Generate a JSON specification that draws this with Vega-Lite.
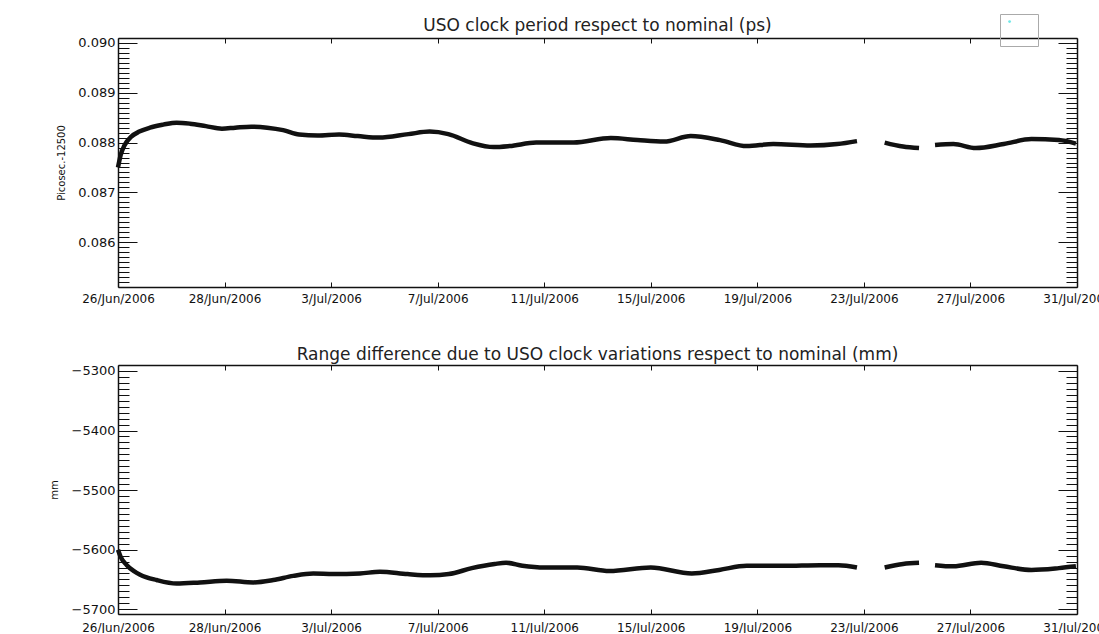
{
  "$schema": "https://vega.github.io/schema/vega-lite/v6.json",
  "background": "white",
  "padding": {"left": 49, "top": 13, "right": 0, "bottom": 0},
  "spacing": 41,
  "datasets": {
    "clock": [
      {"seg": 1, "d": 0.0, "v": 0.08750},
      {"seg": 1, "d": 0.1, "v": 0.08775},
      {"seg": 1, "d": 0.25, "v": 0.08795},
      {"seg": 1, "d": 0.5, "v": 0.08812},
      {"seg": 1, "d": 0.8, "v": 0.08822},
      {"seg": 1, "d": 1.2, "v": 0.08830},
      {"seg": 1, "d": 1.7, "v": 0.08836},
      {"seg": 1, "d": 2.2, "v": 0.08840},
      {"seg": 1, "d": 2.7, "v": 0.08838},
      {"seg": 1, "d": 3.3, "v": 0.08833},
      {"seg": 1, "d": 3.9, "v": 0.08828},
      {"seg": 1, "d": 4.4, "v": 0.08830},
      {"seg": 1, "d": 5.0, "v": 0.08832},
      {"seg": 1, "d": 5.6, "v": 0.08830},
      {"seg": 1, "d": 6.2, "v": 0.08825},
      {"seg": 1, "d": 6.8, "v": 0.08816},
      {"seg": 1, "d": 7.5, "v": 0.08814},
      {"seg": 1, "d": 8.3, "v": 0.08816},
      {"seg": 1, "d": 9.0, "v": 0.08813},
      {"seg": 1, "d": 9.8, "v": 0.08810},
      {"seg": 1, "d": 10.9, "v": 0.08817},
      {"seg": 1, "d": 11.7, "v": 0.08822},
      {"seg": 1, "d": 12.4, "v": 0.08817},
      {"seg": 1, "d": 13.3, "v": 0.08799},
      {"seg": 1, "d": 14.1, "v": 0.08791},
      {"seg": 1, "d": 14.7, "v": 0.08793},
      {"seg": 1, "d": 15.7, "v": 0.08800},
      {"seg": 1, "d": 17.1, "v": 0.08800},
      {"seg": 1, "d": 18.5, "v": 0.08809},
      {"seg": 1, "d": 19.5, "v": 0.08805},
      {"seg": 1, "d": 20.5, "v": 0.08802},
      {"seg": 1, "d": 21.5, "v": 0.08813},
      {"seg": 1, "d": 22.6, "v": 0.08805},
      {"seg": 1, "d": 23.6, "v": 0.08793},
      {"seg": 1, "d": 24.6, "v": 0.08797},
      {"seg": 1, "d": 26.0, "v": 0.08794},
      {"seg": 1, "d": 27.0, "v": 0.08797},
      {"seg": 1, "d": 27.74, "v": 0.08803},
      {"seg": 2, "d": 28.78, "v": 0.08800},
      {"seg": 2, "d": 29.47, "v": 0.08792},
      {"seg": 2, "d": 30.07, "v": 0.08789},
      {"seg": 3, "d": 30.67, "v": 0.08795},
      {"seg": 3, "d": 31.36, "v": 0.08797},
      {"seg": 3, "d": 32.2, "v": 0.08789},
      {"seg": 3, "d": 33.25, "v": 0.08797},
      {"seg": 3, "d": 34.29, "v": 0.08807},
      {"seg": 3, "d": 35.32, "v": 0.08805},
      {"seg": 3, "d": 35.96, "v": 0.08798}
    ],
    "range": [
      {"seg": 1, "d": 0.0, "v": -5600},
      {"seg": 1, "d": 0.1, "v": -5612},
      {"seg": 1, "d": 0.33, "v": -5626},
      {"seg": 1, "d": 0.6, "v": -5636},
      {"seg": 1, "d": 0.83, "v": -5642},
      {"seg": 1, "d": 1.45, "v": -5651},
      {"seg": 1, "d": 2.2, "v": -5657},
      {"seg": 1, "d": 3.08, "v": -5655},
      {"seg": 1, "d": 4.08, "v": -5652},
      {"seg": 1, "d": 5.08, "v": -5655},
      {"seg": 1, "d": 5.83, "v": -5651},
      {"seg": 1, "d": 6.58, "v": -5644},
      {"seg": 1, "d": 7.33, "v": -5640},
      {"seg": 1, "d": 8.08, "v": -5641},
      {"seg": 1, "d": 9.08, "v": -5640},
      {"seg": 1, "d": 9.83, "v": -5637},
      {"seg": 1, "d": 10.87, "v": -5641},
      {"seg": 1, "d": 11.73, "v": -5643},
      {"seg": 1, "d": 12.42, "v": -5641},
      {"seg": 1, "d": 13.28, "v": -5631},
      {"seg": 1, "d": 14.14, "v": -5624},
      {"seg": 1, "d": 14.57, "v": -5622},
      {"seg": 1, "d": 15.18, "v": -5627},
      {"seg": 1, "d": 16.03, "v": -5630},
      {"seg": 1, "d": 17.24, "v": -5630},
      {"seg": 1, "d": 18.45, "v": -5636},
      {"seg": 1, "d": 20.0, "v": -5630},
      {"seg": 1, "d": 21.54, "v": -5640},
      {"seg": 1, "d": 22.57, "v": -5634},
      {"seg": 1, "d": 23.6, "v": -5627},
      {"seg": 1, "d": 24.98, "v": -5627},
      {"seg": 1, "d": 26.36, "v": -5626},
      {"seg": 1, "d": 27.05, "v": -5626},
      {"seg": 1, "d": 27.74, "v": -5630},
      {"seg": 2, "d": 28.78, "v": -5630},
      {"seg": 2, "d": 29.47, "v": -5624},
      {"seg": 2, "d": 30.07, "v": -5622},
      {"seg": 3, "d": 30.67, "v": -5626},
      {"seg": 3, "d": 31.36, "v": -5628},
      {"seg": 3, "d": 32.4, "v": -5622},
      {"seg": 3, "d": 33.25, "v": -5628},
      {"seg": 3, "d": 34.29, "v": -5634},
      {"seg": 3, "d": 35.32, "v": -5631},
      {"seg": 3, "d": 35.96, "v": -5628}
    ]
  },
  "vconcat": [
    {
      "width": 959,
      "height": 249,
      "title": {"text": "USO clock period respect to nominal (ps)", "fontSize": 17, "fontWeight": "normal", "font": "DejaVu Sans", "color": "#222", "offset": 2},
      "data": {"name": "clock"},
      "layer": [
        {
          "mark": {"type": "line", "color": "#111", "strokeWidth": 4.5, "interpolate": "monotone"},
          "encoding": {
            "x": {"field": "d", "type": "quantitative", "scale": {"domain": [0, 36], "nice": false, "zero": false},
              "axis": {"title": null, "values": [0, 4, 8, 12, 16, 20, 24, 28, 32, 36], "tickSize": -5, "labelPadding": 11, "labelOverlap": false, "labelFlush": false,
                "labelExpr": "['26/Jun/2006','28/Jun/2006','3/Jul/2006','7/Jul/2006','11/Jul/2006','15/Jul/2006','19/Jul/2006','23/Jul/2006','27/Jul/2006','31/Jul/2006'][round(datum.value/4)]"}},
            "y": {"field": "v", "type": "quantitative", "scale": {"domain": [0.0851, 0.0901], "nice": false, "zero": false},
              "axis": {"title": "Picosec.-12500", "titlePadding": 11,
                "values": [0.0852,0.0853,0.0854,0.0855,0.0856,0.0857,0.0858,0.0859,0.086,0.0861,0.0862,0.0863,0.0864,0.0865,0.0866,0.0867,0.0868,0.0869,0.087,0.0871,0.0872,0.0873,0.0874,0.0875,0.0876,0.0877,0.0878,0.0879,0.088,0.0881,0.0882,0.0883,0.0884,0.0885,0.0886,0.0887,0.0888,0.0889,0.089,0.0891,0.0892,0.0893,0.0894,0.0895,0.0896,0.0897,0.0898,0.0899,0.09],
                "tickSize": {"condition": {"test": "abs(datum.value*1000 - round(datum.value*1000)) < 0.01", "value": -19}, "value": -11},
                "labelPadding": 22, "labelOverlap": false,
                "labelExpr": "abs(datum.value*1000 - round(datum.value*1000)) < 0.01 ? format(datum.value, '.3f') : ''"}},
            "detail": {"field": "seg"}
          }
        },
        {
          "mark": {"type": "line", "opacity": 0},
          "encoding": {
            "x": {"field": "d", "type": "quantitative",
              "axis": {"orient": "top", "title": null, "labels": false, "values": [0, 4, 8, 12, 16, 20, 24, 28, 32, 36], "tickSize": -5}},
            "y": {"field": "v", "type": "quantitative",
              "axis": {"orient": "right", "title": null, "labels": false,
                "values": [0.0852,0.0853,0.0854,0.0855,0.0856,0.0857,0.0858,0.0859,0.086,0.0861,0.0862,0.0863,0.0864,0.0865,0.0866,0.0867,0.0868,0.0869,0.087,0.0871,0.0872,0.0873,0.0874,0.0875,0.0876,0.0877,0.0878,0.0879,0.088,0.0881,0.0882,0.0883,0.0884,0.0885,0.0886,0.0887,0.0888,0.0889,0.089,0.0891,0.0892,0.0893,0.0894,0.0895,0.0896,0.0897,0.0898,0.0899,0.09],
                "tickSize": {"condition": {"test": "abs(datum.value*1000 - round(datum.value*1000)) < 0.01", "value": -19}, "value": -11}}},
            "detail": {"field": "seg"}
          }
        },
        {
          "transform": [{"filter": "false"}],
          "mark": {"type": "point", "filled": true},
          "encoding": {
            "color": {"datum": "a", "scale": {"domain": ["a"], "range": ["#33dddd"]},
              "legend": {"orient": "none", "legendX": 882, "legendY": -24, "title": "M", "titleOrient": "bottom", "titleFontSize": 13, "titleColor": "transparent", "titlePadding": 4,
                "labelExpr": "'MMM'", "labelFontSize": 7.2, "labelColor": "transparent", "labelOffset": 2,
                "symbolSize": 8, "symbolOffset": 2, "symbolType": "circle", "padding": 4, "strokeColor": "#aaaaaa", "fillColor": "transparent"}}
          }
        }
      ],
      "resolve": {"axis": {"x": "independent", "y": "independent"}}
    },
    {
      "width": 959,
      "height": 249,
      "title": {"text": "Range difference due to USO clock variations respect to nominal (mm)", "fontSize": 17, "fontWeight": "normal", "font": "DejaVu Sans", "color": "#222", "offset": 1},
      "data": {"name": "range"},
      "layer": [
        {
          "mark": {"type": "line", "color": "#111", "strokeWidth": 4.5, "interpolate": "monotone"},
          "encoding": {
            "x": {"field": "d", "type": "quantitative", "scale": {"domain": [0, 36], "nice": false, "zero": false},
              "axis": {"title": null, "values": [0, 4, 8, 12, 16, 20, 24, 28, 32, 36], "tickSize": -5, "labelPadding": 13, "labelOverlap": false, "labelFlush": false,
                "labelExpr": "['26/Jun/2006','28/Jun/2006','3/Jul/2006','7/Jul/2006','11/Jul/2006','15/Jul/2006','19/Jul/2006','23/Jul/2006','27/Jul/2006','31/Jul/2006'][round(datum.value/4)]"}},
            "y": {"field": "v", "type": "quantitative", "scale": {"domain": [-5708, -5290], "nice": false, "zero": false},
              "axis": {"title": "mm", "titlePadding": 12,
                "values": [-5700,-5690,-5680,-5670,-5660,-5650,-5640,-5630,-5620,-5610,-5600,-5590,-5580,-5570,-5560,-5550,-5540,-5530,-5520,-5510,-5500,-5490,-5480,-5470,-5460,-5450,-5440,-5430,-5420,-5410,-5400,-5390,-5380,-5370,-5360,-5350,-5340,-5330,-5320,-5310,-5300],
                "tickSize": {"condition": {"test": "datum.value % 100 == 0", "value": -19}, "value": -11},
                "labelPadding": 22, "labelOverlap": false,
                "labelExpr": "datum.value % 100 == 0 ? format(datum.value, 'd') : ''"}},
            "detail": {"field": "seg"}
          }
        },
        {
          "mark": {"type": "line", "opacity": 0},
          "encoding": {
            "x": {"field": "d", "type": "quantitative",
              "axis": {"orient": "top", "title": null, "labels": false, "values": [0, 4, 8, 12, 16, 20, 24, 28, 32, 36], "tickSize": -5}},
            "y": {"field": "v", "type": "quantitative",
              "axis": {"orient": "right", "title": null, "labels": false,
                "values": [-5700,-5690,-5680,-5670,-5660,-5650,-5640,-5630,-5620,-5610,-5600,-5590,-5580,-5570,-5560,-5550,-5540,-5530,-5520,-5510,-5500,-5490,-5480,-5470,-5460,-5450,-5440,-5430,-5420,-5410,-5400,-5390,-5380,-5370,-5360,-5350,-5340,-5330,-5320,-5310,-5300],
                "tickSize": {"condition": {"test": "datum.value % 100 == 0", "value": -19}, "value": -11}}},
            "detail": {"field": "seg"}
          }
        }
      ],
      "resolve": {"axis": {"x": "independent", "y": "independent"}}
    }
  ],
  "config": {
    "view": {"stroke": null},
    "axis": {"grid": false, "domainColor": "#111", "domainWidth": 1.5, "tickColor": "#111", "tickWidth": 1, "labelColor": "#111", "labelFont": "DejaVu Sans", "labelFontSize": 12, "titleFont": "DejaVu Sans", "titleFontSize": 10, "titleFontWeight": "normal", "titleColor": "#111"},
    "axisY": {"labelFontSize": 13},
    "title": {"anchor": "middle"}
  }
}
